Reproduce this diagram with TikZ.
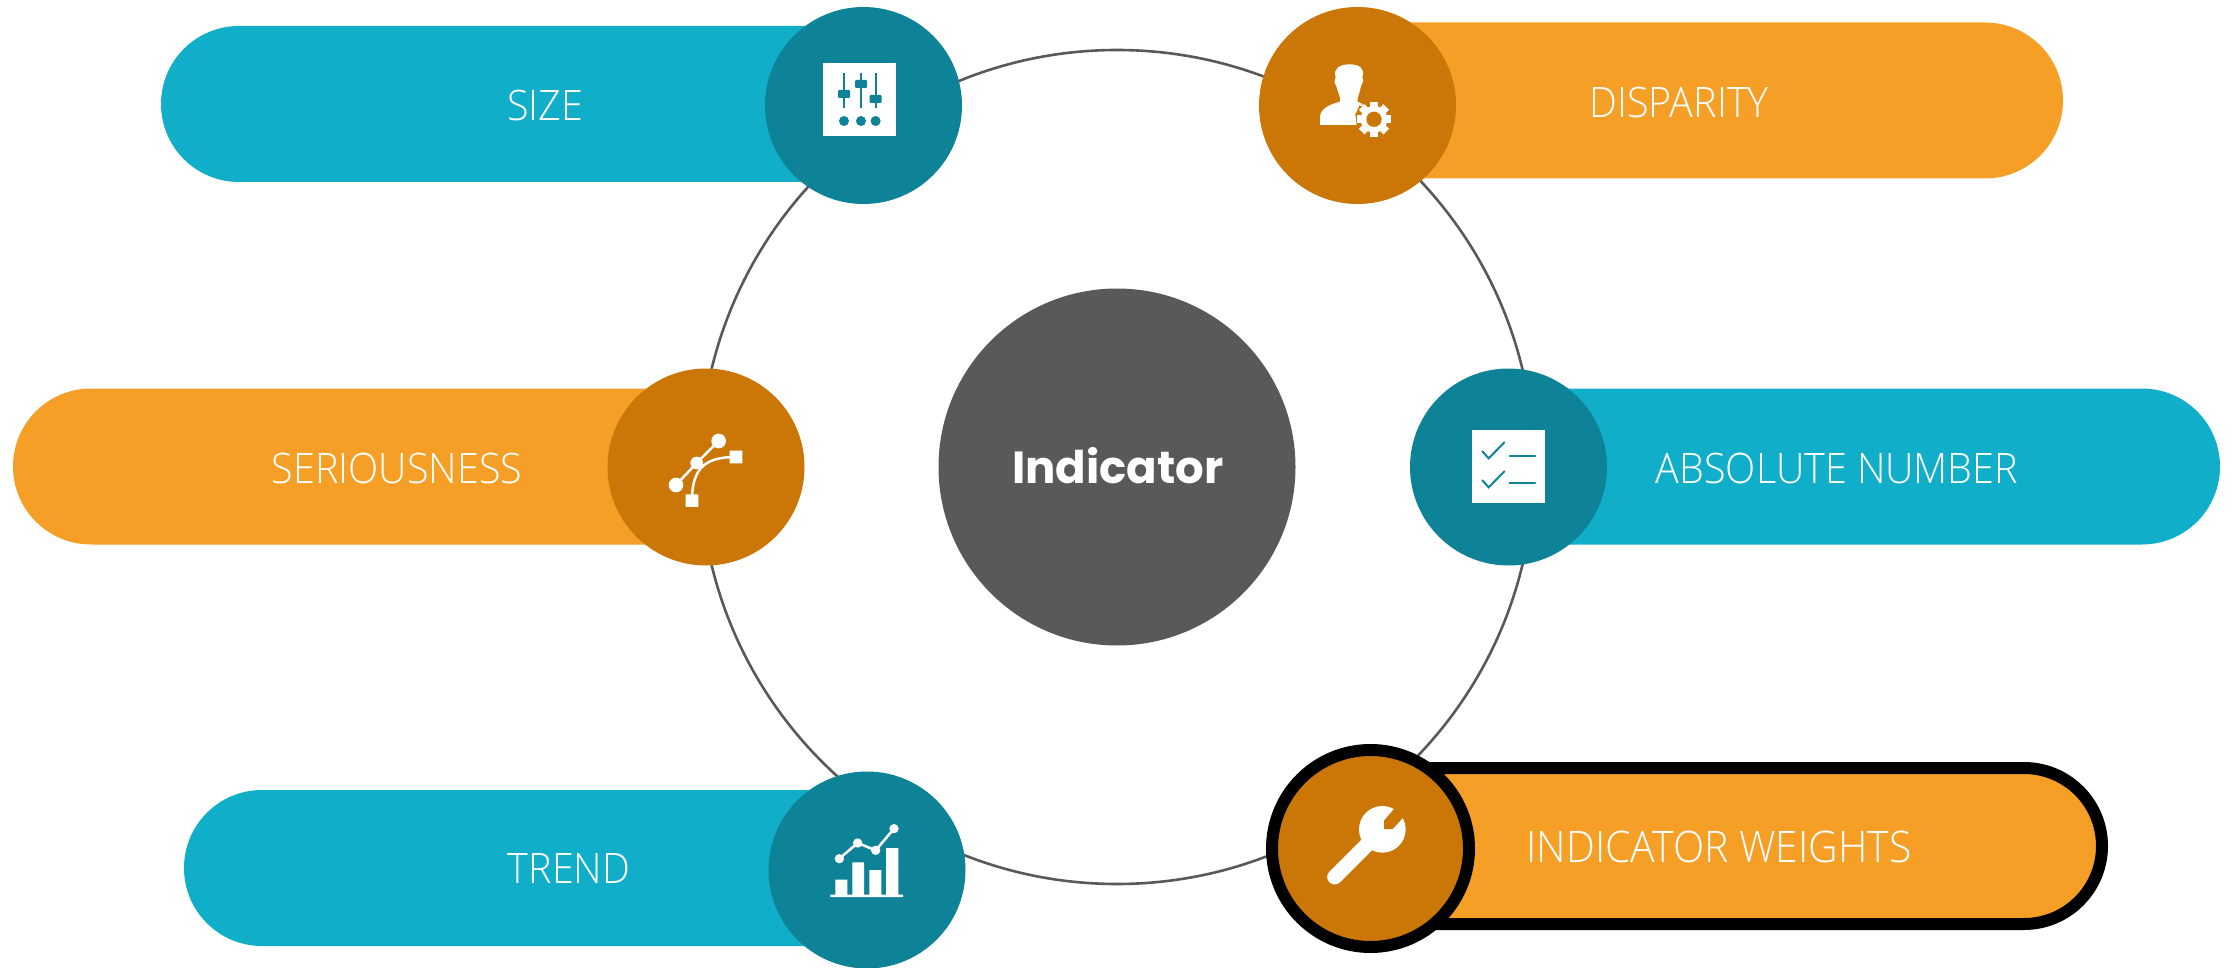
\documentclass[tikz,border=0pt]{standalone}
\usepackage{fontspec}
\usetikzlibrary{shapes.misc}
\setmainfont{Open Sans}
\newfontfamily\lightf[FakeStretch=0.94]{Open Sans Light}
\newfontfamily\headf{Poppins}
\definecolor{cy}{HTML}{11AEC9}
\definecolor{te}{HTML}{0E8296}
\definecolor{or}{HTML}{F59F27}
\definecolor{dk}{HTML}{CB7707}
\definecolor{gy}{HTML}{595959}
\tikzset{
 pillL/.style={rounded rectangle,rounded rectangle east arc=none,minimum height=156pt,inner sep=0,outer sep=0},
 pillR/.style={rounded rectangle,rounded rectangle west arc=none,minimum height=156pt,inner sep=0,outer sep=0},
 disc/.style={circle,minimum size=197pt,inner sep=0,outer sep=0},
 lab/.style={text=white,font=\fontsize{42}{42}\selectfont\lightf,inner sep=0,anchor=center},
 icon/.style={x=0.33333pt,y=-0.33333pt},
}
\begin{document}
\begin{tikzpicture}[x=1pt,y=-1pt]
\useasboundingbox (0,0) rectangle (2236,968);
\node[circle,draw=gy,line width=2.6pt,minimum size=834pt,inner sep=0] (ring) at (1117,467) {};
\node[circle,fill=gy,minimum size=357pt,inner sep=0] (core) at (1117,467) {};
\node[text=white,font=\fontsize{45}{45}\selectfont\headf\bfseries,inner sep=0] (coret) at (1118,466) {Indicator};
% pills
\node[pillL,fill=cy,minimum width=703pt] (p1) at (512.5,104) {};
\node[pillR,fill=or,minimum width=706pt] (p2) at (1710,100.5) {};
\node[pillL,fill=or,minimum width=693pt] (p3) at (359.5,466.5) {};
\node[pillR,fill=cy,minimum width=712pt] (p4) at (1864,466.5) {};
\node[pillL,fill=cy,minimum width=683pt] (p5) at (525.5,868) {};
\node[pillR,fill=or,draw=black,line width=12pt,minimum width=732pt,minimum height=156pt] (p6) at (1736,846) {};
% discs
\node[disc,fill=te] (d1) at (863.5,105.5) {};
\node[disc,fill=dk] (d2) at (1357.5,105.5) {};
\node[disc,fill=dk] (d3) at (706,467) {};
\node[disc,fill=te] (d4) at (1508.5,467) {};
\node[disc,fill=te] (d5) at (867,870) {};
\node[circle,fill=dk,draw=black,line width=12pt,minimum size=197pt,inner sep=0] (d6) at (1370.5,848.5) {};
% labels
\node[lab] (t1) at (545,106) {SIZE};
\node[lab] (t2) at (1679,103) {DISPARITY};
\node[lab] (t3) at (397,468) {SERIOUSNESS};
\node[lab] (t4) at (1837,468) {ABSOLUTE NUMBER};
\node[lab] (t5) at (569,869) {TREND};
\node[lab,font=\fontsize{43.5}{43.5}\selectfont\lightf] (t6) at (1719,847) {INDICATOR WEIGHTS};
% sliders icon
\fill[white] (823.4,63) rectangle (896,136);
\foreach \xa/\ya in {844/94,861/84,875.6/99}{
  \fill[te] (\xa-1,73) rectangle (\xa+1,108);
  \fill[te,rounded corners=1pt] (\xa-6,\ya-4) rectangle (\xa+6,\ya+4);
  \fill[te] (\xa,121) circle[radius=5];
}
% person + gear icon
\begin{scope}[shift={(1240,0)},icon]
\fill[white] (240,375) -- (240,350) .. controls (242,325) and (268,314) .. (300,305)
  .. controls (304,295) and (294,280) .. (289,258) .. controls (282,248) and (282,240) .. (287,232)
  .. controls (278,205) and (300,193) .. (328,193) .. controls (358,193) and (376,205) .. (367,232)
  .. controls (372,242) and (368,250) .. (363,258) .. controls (360,278) and (352,290) .. (352,305)
  -- (375,315) -- (360,312) -- (345,345) -- (355,368) -- (348,375) -- cycle;
\fill[dk] (402,358) circle[radius=54];
\fill[white] (360,312) -- (376,317) -- (372,320) -- (358,316) -- cycle;
\foreach \a in {0,45,...,315}{
  \fill[white,rotate around={\a:(402,358)}] (390,306) rectangle (414,340);
}
\fill[white] (402,358) circle[radius=40];
\fill[dk] (402,358) circle[radius=23];
\end{scope}
% curve icon
\begin{scope}[shift={(600,360)},icon]
\draw[white,line width=2.5pt] (356,243) -- (290,309) -- (228,375);
\draw[white,line width=2.5pt] (408,291) .. controls (320,291) and (276,320) .. (276,422);
\fill[white] (356,243) circle[radius=22] (228,375) circle[radius=22] (290,309) circle[radius=19];
\fill[white] (389,272) rectangle (427,310) (257,403) rectangle (295,441);
\end{scope}
% checklist icon
\begin{scope}[shift={(1410,360)},icon]
\fill[white] (186,211) rectangle (405,430);
\draw[te,line width=2pt,line cap=round] (217,274) -- (236,295) -- (283,247);
\draw[te,line width=2pt,line cap=round] (217,361) -- (236,382) -- (283,334);
\draw[te,line width=2.2pt,line cap=round] (299,289) -- (375,289) (299,368) -- (375,368);
\end{scope}
% chart icon
\begin{scope}[shift={(770,770)},icon]
\fill[white] (196,329) rectangle (232,376) (247,277) rectangle (282,376)
 (298,300) rectangle (334,376) (348,234) rectangle (385,376) (181,374) rectangle (399,381);
\draw[white,line width=2.5pt] (208,266) -- (263,219) -- (317,241) -- (372,176);
\fill[white] (208,266) circle[radius=14] (263,219) circle[radius=14] (317,241) circle[radius=14] (372,176) circle[radius=14];
\end{scope}
% wrench icon
\begin{scope}[shift={(1250,730)},icon]
\fill[white] (397,298) circle[radius=70];
\fill[dk] (436,232) -- (402,272) -- (402,297) -- (428,297) -- (462,260) -- (480,220) -- (450,215) -- cycle;
\draw[white,line width=15pt,line cap=round] (352,343) -- (254,441);
\end{scope}
\end{tikzpicture}
\end{document}
